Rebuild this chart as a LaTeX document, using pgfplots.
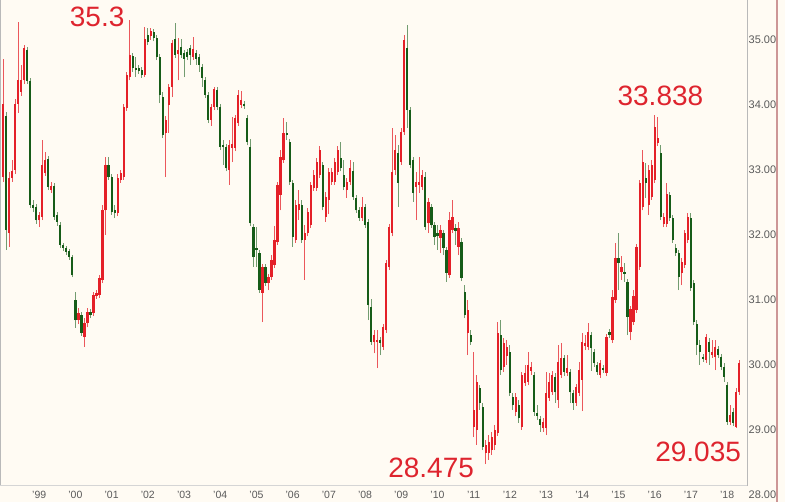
\documentclass[border=0pt]{standalone}
\usepackage{fontspec}
\setmainfont{Liberation Sans}
\usepackage{pgfplots}
\pgfplotsset{compat=1.18}
\usepackage{pgfplotstable}

\definecolor{bgc}{RGB}{255,251,243}
\definecolor{upc}{RGB}{228,32,40}
\definecolor{dnc}{RGB}{22,92,24}
\definecolor{txtred}{RGB}{222,36,46}
\definecolor{tickc}{RGB}{90,90,90}
\definecolor{framec}{RGB}{185,185,185}
\definecolor{edgec}{RGB}{205,150,150}

% monthly candles, k = months since Jan 1998; red = up, green = down
\pgfplotstableread{
k O H L C
0 32.89 34.71 32.82 34.02
2 32.03 32.97 31.82 32.88
3 32.88 33.15 32.82 32.98
4 33.00 34.09 32.94 34.02
5 34.02 35.28 33.88 34.38
6 34.20 34.62 34.14 34.38
7 34.38 34.92 34.32 34.88
12 32.23 32.35 32.12 32.31
13 32.28 33.46 32.23 33.08
14 32.95 33.28 32.91 33.15
16 32.69 32.82 32.65 32.75
25 30.69 30.88 30.63 30.80
27 30.43 30.72 30.28 30.65
28 30.65 30.88 30.58 30.82
30 30.80 31.12 30.75 31.08
31 31.06 31.15 31.02 31.11
32 31.08 31.38 31.03 31.34
33 31.31 32.46 31.26 32.38
34 32.38 33.20 32.00 33.08
38 32.34 32.94 32.29 32.88
39 32.85 33.00 32.80 32.95
40 32.89 34.02 32.85 33.97
41 33.95 34.51 33.91 34.46
42 34.43 35.30 34.38 34.77
47 34.46 35.20 34.43 35.02
49 35.06 35.18 35.00 35.14
54 33.57 33.83 32.89 33.77
55 34.00 34.32 33.57 34.28
56 34.28 35.00 34.12 34.95
58 34.78 35.03 34.38 34.85
63 34.74 35.05 34.69 34.86
69 33.77 34.02 33.68 33.97
70 33.97 34.28 33.92 34.25
75 33.00 33.46 32.77 33.38
76 33.34 33.82 33.12 33.40
77 33.34 33.85 33.29 33.80
78 33.72 34.23 33.68 34.15
79 34.00 34.22 33.95 34.08
86 31.11 31.55 30.66 31.51
88 31.26 31.40 31.15 31.35
89 31.35 31.69 31.31 31.62
90 31.54 32.14 31.49 31.92
91 31.89 32.82 31.85 32.77
92 32.62 33.31 32.38 33.20
93 33.15 33.80 33.11 33.57
97 31.92 32.54 31.88 32.46
98 32.38 32.69 32.23 32.48
100 31.92 32.15 31.31 32.03
101 32.03 32.42 31.98 32.35
102 32.15 32.82 32.11 32.77
103 32.72 33.00 32.68 32.92
104 32.72 33.18 32.68 33.12
105 32.92 33.37 32.88 33.31
107 32.28 32.66 32.20 32.58
108 32.54 33.03 32.32 32.97
109 32.82 33.03 32.77 32.97
110 32.82 33.18 32.77 33.12
111 32.97 33.37 32.92 33.31
114 32.69 32.88 32.57 32.82
115 32.82 33.15 32.77 33.03
119 32.26 32.58 32.22 32.43
123 30.35 30.54 30.18 30.46
124 30.35 30.54 29.95 30.38
126 30.28 30.63 30.23 30.58
127 30.54 31.62 30.49 31.57
128 31.51 32.17 31.46 32.12
129 32.03 33.65 31.98 32.97
130 33.00 33.54 32.92 33.31
132 33.12 33.65 33.08 33.58
133 33.58 35.08 33.54 35.00
137 32.74 32.97 32.23 32.82
138 32.77 33.20 32.65 32.82
139 32.74 33.00 32.69 32.92
141 32.18 32.57 32.03 32.51
145 31.95 32.15 31.72 32.08
148 31.38 32.35 31.34 32.23
149 32.08 32.54 32.03 32.28
151 31.82 32.20 31.69 32.11
154 30.49 31.00 30.15 30.85
156 29.05 30.20 28.89 29.31
157 29.00 29.85 28.77 29.74
160 28.65 28.85 28.475 28.77
161 28.65 28.92 28.54 28.82
162 28.69 28.97 28.62 28.89
163 28.77 29.08 28.69 29.00
164 28.95 30.66 28.91 30.49
166 29.97 30.42 29.89 30.34
167 30.14 30.38 30.00 30.28
170 29.28 29.57 29.22 29.51
172 29.05 29.89 29.00 29.85
173 29.72 30.00 29.68 29.88
174 29.74 30.20 29.69 30.00
175 29.91 30.05 29.85 29.97
179 29.03 29.18 28.97 29.12
180 29.03 29.89 28.92 29.57
181 29.49 29.88 29.45 29.74
182 29.58 29.91 29.54 29.85
184 29.46 30.31 29.34 30.05
185 29.85 30.34 29.80 30.11
187 29.88 30.15 29.83 29.95
190 29.42 29.71 29.37 29.66
191 29.57 30.05 29.52 29.92
192 29.77 30.49 29.29 30.35
193 30.29 30.46 30.23 30.34
194 30.28 30.65 30.23 30.51
198 29.85 30.08 29.80 30.03
200 29.88 30.48 29.83 30.43
202 30.38 31.15 30.34 31.05
203 31.00 31.88 30.95 31.65
205 31.43 31.68 31.31 31.51
208 30.51 30.91 30.38 30.86
209 30.66 31.15 30.62 31.06
210 30.85 31.86 30.80 31.82
211 31.51 32.85 31.46 32.80
212 32.43 33.31 32.38 33.12
214 32.46 33.08 32.31 33.00
215 32.58 33.15 32.54 33.08
216 32.85 33.838 32.80 33.66
217 33.42 33.82 33.37 33.49
219 32.17 32.34 32.12 32.28
220 32.17 32.80 32.12 32.63
225 31.42 31.65 31.23 31.58
226 31.54 32.08 31.49 32.03
227 31.92 32.34 31.88 32.28
233 30.08 30.48 30.03 30.43
235 30.15 30.38 30.11 30.20
236 30.12 30.38 29.92 30.28
241 29.12 29.38 29.08 29.23
243 29.05 29.65 29.035 29.58
244 29.58 30.08 29.54 30.03
}\uptab

\pgfplotstableread{
k O H L C
1 33.83 33.89 31.77 32.08
8 34.85 34.89 34.32 34.37
9 34.37 34.42 32.42 32.46
10 32.46 32.54 32.35 32.42
11 32.43 32.48 32.17 32.23
15 33.17 33.22 32.69 32.74
17 32.75 32.80 32.23 32.28
18 32.31 32.35 32.14 32.20
19 32.15 32.20 31.80 31.85
20 31.85 31.88 31.75 31.80
21 31.80 31.83 31.69 31.74
22 31.75 31.78 31.62 31.66
23 31.66 31.69 31.35 31.38
24 31.00 31.12 30.57 30.69
26 30.77 30.82 30.45 30.49
29 30.82 30.86 30.72 30.77
35 33.08 33.20 32.85 32.89
36 32.89 32.94 32.31 32.35
37 32.38 32.46 32.26 32.34
43 34.75 34.80 34.51 34.57
44 34.57 34.74 34.43 34.54
45 34.57 34.62 34.48 34.52
46 34.54 34.58 34.42 34.46
48 35.08 35.18 34.92 34.97
50 35.12 35.17 34.98 35.03
51 35.03 35.08 34.69 34.74
52 34.74 34.78 34.03 34.15
53 34.12 34.20 33.49 33.54
57 35.02 35.26 34.72 34.77
59 34.89 35.02 34.72 34.77
60 34.80 34.85 34.43 34.71
61 34.82 34.86 34.69 34.74
62 34.88 34.92 34.62 34.77
64 34.80 34.85 34.62 34.71
65 34.74 34.78 34.51 34.62
66 34.58 34.63 34.28 34.42
67 34.38 34.43 34.11 34.15
68 34.15 34.20 33.72 33.77
71 34.23 34.28 33.92 33.97
72 33.97 34.02 33.31 33.35
73 33.38 33.46 33.08 33.35
74 33.35 33.40 32.98 33.03
80 34.02 34.06 33.94 33.98
81 33.80 33.85 33.38 33.43
82 33.35 33.48 32.14 32.18
83 32.12 32.17 31.51 31.66
84 31.80 32.12 31.51 31.77
85 31.72 31.77 31.11 31.15
87 31.51 31.55 31.22 31.26
94 33.57 33.74 33.46 33.54
95 33.43 33.48 32.77 32.82
96 32.80 32.85 31.82 31.97
99 32.46 32.54 31.88 31.92
106 33.08 33.12 32.38 32.43
112 33.18 33.43 32.98 33.03
113 32.92 33.15 32.69 32.74
116 32.98 33.12 32.54 32.58
117 32.57 32.62 32.34 32.38
118 32.38 32.43 32.22 32.26
120 32.43 32.48 32.11 32.15
121 32.20 32.25 30.69 30.92
122 30.89 31.02 30.31 30.35
125 30.38 30.43 30.15 30.34
131 33.26 33.38 32.43 32.80
134 34.88 35.23 33.65 33.92
135 33.92 33.97 33.03 33.08
136 33.15 33.20 32.51 32.65
140 32.89 32.97 32.08 32.12
142 32.43 32.48 32.11 32.15
143 32.15 32.20 31.85 31.97
144 32.03 32.15 31.77 31.98
146 32.03 32.08 31.69 31.80
147 31.77 31.82 31.28 31.42
150 32.11 32.17 31.85 32.06
152 31.89 31.95 31.29 31.34
153 31.12 31.23 30.72 30.77
155 30.46 30.54 30.31 30.35
158 29.65 29.69 29.31 29.42
159 29.35 29.42 28.69 28.74
165 30.46 30.69 29.85 29.92
168 30.20 30.31 29.52 29.57
169 29.51 29.57 29.31 29.38
171 29.38 29.46 29.11 29.18
176 29.85 29.89 29.22 29.28
177 29.26 29.38 29.15 29.22
178 29.17 29.22 28.97 29.08
183 29.82 29.88 29.42 29.58
186 30.11 30.15 29.83 29.89
188 29.89 29.94 29.42 29.58
189 29.57 29.62 29.31 29.42
195 30.46 30.51 29.91 30.26
196 30.20 30.25 29.97 30.03
197 30.00 30.05 29.85 29.89
199 29.95 30.00 29.88 29.92
201 30.51 30.55 30.42 30.46
204 31.65 32.03 31.15 31.57
206 31.43 31.57 31.28 31.40
207 31.28 31.32 30.46 30.74
213 32.88 33.11 32.57 32.80
218 33.26 33.38 32.23 32.28
221 32.62 32.66 32.22 32.26
222 32.26 32.31 31.88 31.92
223 31.80 31.86 31.68 31.72
224 31.72 31.77 31.15 31.35
228 32.26 32.34 31.14 31.18
229 31.26 31.31 30.62 30.66
230 30.63 30.69 30.15 30.31
231 30.31 30.38 30.00 30.20
232 30.12 30.17 30.05 30.09
234 30.35 30.42 30.00 30.20
237 30.25 30.29 30.11 30.15
238 30.12 30.17 29.92 29.97
239 29.97 30.03 29.74 29.82
240 29.69 29.74 29.08 29.12
242 29.28 29.34 29.06 29.11
}\dntab

\begin{document}
\begin{tikzpicture}
\fill[bgc] (0bp,0bp) rectangle (785bp,502bp);
\begin{axis}[
    at={(0bp,16bp)}, anchor=south west,
    scale only axis, width=747bp, height=486bp,
    xmin=-0.994, xmax=246.6, ymin=28.138, ymax=35.615,
    clip=false,
    axis line style={draw=none},
    major tick length=0pt,
    xtick={12,24,...,240},
    xticklabels={'99,'00,'01,'02,'03,'04,'05,'06,'07,'08,'09,'10,'11,'12,'13,'14,'15,'16,'17,'18},
    xticklabel style={inner sep=0pt, yshift=-5bp, text=tickc, font=\fontsize{10.5bp}{12bp}\selectfont},
    ytick={29,30,31,32,33,34,35},
    yticklabels={29.000,30.000,31.000,32.000,33.000,34.000,35.000},
    yticklabel pos=right,
    yticklabel style={anchor=west, inner sep=0pt, xshift=1.5bp, text=tickc, font=\fontsize{11bp}{12bp}\selectfont},
]
% wicks
\addplot[draw=none, mark=none, forget plot, error bars/.cd, y dir=plus, y explicit, error mark=none,
    error bar style={line width=0.9bp, draw=upc!75!bgc}]
    table[x=k, y=L, y error plus expr=\thisrow{H}-\thisrow{L}] {\uptab};
\addplot[draw=none, mark=none, forget plot, error bars/.cd, y dir=plus, y explicit, error mark=none,
    error bar style={line width=0.9bp, draw=dnc!60!bgc}]
    table[x=k, y=L, y error plus expr=\thisrow{H}-\thisrow{L}] {\dntab};
% bodies
\addplot[draw=none, mark=none, forget plot, error bars/.cd, y dir=plus, y explicit, error mark=none,
    error bar style={line width=2.2bp, draw=upc}]
    table[x=k, y=O, y error plus expr=\thisrow{C}-\thisrow{O}] {\uptab};
\addplot[draw=none, mark=none, forget plot, error bars/.cd, y dir=plus, y explicit, error mark=none,
    error bar style={line width=2.2bp, draw=dnc}]
    table[x=k, y=C, y error plus expr=\thisrow{O}-\thisrow{C}] {\dntab};

\node[text=txtred, font=\fontsize{28bp}{30bp}\selectfont, inner sep=0pt] at (axis cs:31.2,35.35) {35.3};
\node[text=txtred, font=\fontsize{28bp}{30bp}\selectfont, inner sep=0pt] at (axis cs:217.9,34.146) {33.838};
\node[text=txtred, font=\fontsize{28bp}{30bp}\selectfont, inner sep=0pt] at (axis cs:141.9,28.42) {28.475};
\node[text=txtred, font=\fontsize{28bp}{30bp}\selectfont, inner sep=0pt] at (axis cs:230.4,28.67) {29.035};
\end{axis}
\draw[framec, line width=1bp] (0.5bp,16bp) -- (0.5bp,502bp);
\draw[framec!60, line width=1bp] (0bp,16bp) -- (747bp,16bp);
\draw[framec, line width=1bp] (747bp,16bp) -- (747bp,502bp);
\node[anchor=west, inner sep=0pt, text=tickc, font=\fontsize{11bp}{12bp}\selectfont] at (748.5bp,7bp) {28.000};
\fill[bgc] (776bp,0bp) rectangle (785bp,502bp);
\draw[edgec, line width=1.5bp] (776.75bp,0bp) -- (776.75bp,502bp);
\pgfresetboundingbox
\path[use as bounding box] (0bp,0bp) rectangle (785bp,502bp);
\end{tikzpicture}
\end{document}
